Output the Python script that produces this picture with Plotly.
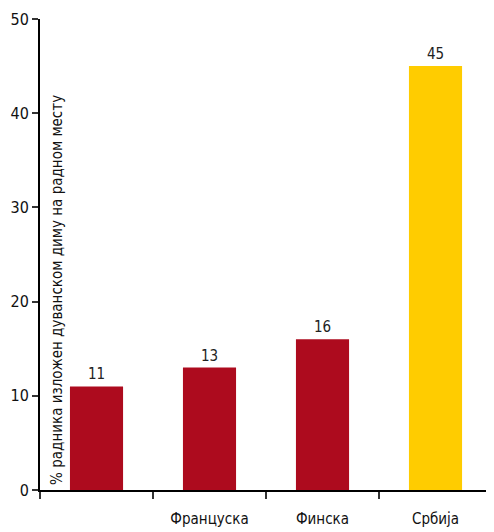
import plotly.graph_objects as go

categories = [" ", "Француска", "Финска", "Србија"]
values = [11, 13, 16, 45]
colors = ["#AD0B1E", "#AD0B1E", "#AD0B1E", "#FFCC00"]
y_ticks = [0, 10, 20, 30, 40, 50]
y_title = "% радника изложен дуванском диму на радном месту"

FONT = "Liberation Sans Narrow, DejaVu Sans Condensed, sans-serif"

fig = go.Figure(go.Bar(
    x=categories, y=values, marker_color=colors, marker_line_width=0,
    text=[str(v) for v in values], textposition="outside",
    textfont=dict(size=15, color="#222"), cliponaxis=False,
))

fig.update_layout(
    width=486, height=524,
    margin=dict(l=32, r=2, t=11, b=42),
    paper_bgcolor="white", plot_bgcolor="white",
    bargap=0.53, showlegend=False,
    font=dict(family=FONT, size=15, color="#111"),
)
fig.update_xaxes(
    type="category", showline=True, linecolor="black", linewidth=2,
    ticks="outside", tickson="boundaries", ticklen=7, tickwidth=1.5, tickcolor="#333",
    showgrid=False, tickfont=dict(size=15), automargin=False, ticklabelstandoff=14,
)
fig.update_yaxes(
    range=[0, 50], tickmode="array", tickvals=y_ticks,
    ticktext=[str(t) for t in y_ticks],
    showline=True, linecolor="black", linewidth=2,
    ticks="outside", ticklen=6, tickwidth=1.5, tickcolor="#333",
    showgrid=False, zeroline=False, tickfont=dict(size=16), automargin=False,
)
fig.add_annotation(
    text=y_title, xref="paper", yref="y", x=0.037, y=0.3,
    xanchor="center", yanchor="bottom", textangle=-90, showarrow=False,
    font=dict(size=15, color="#111"),
)

fig.write_html("out.html")
